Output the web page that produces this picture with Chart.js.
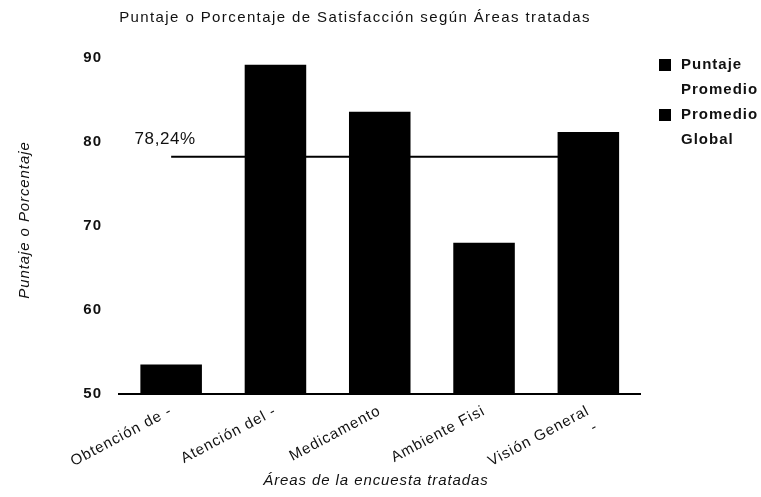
<!DOCTYPE html>
<html>
<head>
<meta charset="utf-8">
<script src="https://cdn.jsdelivr.net/npm/chart.js@4/dist/chart.umd.min.js"></script>
<style>
html,body{margin:0;padding:0;background:#fff;}
#wrap{width:761px;height:497px;position:relative;}
</style>
</head>
<body>
<div id="wrap"><canvas id="c" width="761" height="497"></canvas></div>
<script>
const categories = ["Obtención de -", "Atención del -", "Medicamento", "Ambiente Fisi", ["Visión General", "-"]];
const puntajePromedio = [53.5, 89.2, 83.6, 68.0, 81.2];
const promedioGlobal = [78.24, 78.24, 78.24, 78.24, 78.24];
const promedioGlobalLabel = "78,24%";
const yTicks = [50, 60, 70, 80, 90];
const legendLabels = [["Puntaje", "Promedio"], ["Promedio", "Global"]];
const chartTitle = "Puntaje o Porcentaje de Satisfacción según Áreas tratadas";
const xTitle = "Áreas de la encuesta tratadas";
const yTitle = "Puntaje o Porcentaje";

const FONT = "'Liberation Sans', Arial, sans-serif";

const spacing = {
  id: 'spacing',
  beforeUpdate(chart) { chart.ctx.letterSpacing = '1px'; },
  beforeLayout(chart) { chart.ctx.letterSpacing = '1px'; },
  beforeDraw(chart) { chart.ctx.letterSpacing = '1px'; }
};

const decor = {
  id: 'decor',
  afterDraw(chart) {
    const ctx = chart.ctx;
    const a = chart.chartArea;
    ctx.save();
    ctx.fillStyle = '#111';
    // title
    ctx.letterSpacing = '1.4px';
    ctx.font = "15px " + FONT;
    ctx.textAlign = 'center';
    ctx.textBaseline = 'middle';
    ctx.fillText(chartTitle, 355, 18);
    // x title
    ctx.letterSpacing = '0.9px';
    ctx.font = "italic 15px " + FONT;
    ctx.fillText(xTitle, 376, 481);
    // y title
    ctx.save();
    ctx.translate(25, 220);
    ctx.rotate(-Math.PI / 2);
    ctx.fillText(yTitle, 0, 0);
    ctx.restore();
    // average label
    const meta = chart.getDatasetMeta(1);
    const p0 = meta.data[0];
    ctx.letterSpacing = '0.6px';
    ctx.font = "17px " + FONT;
    ctx.textAlign = 'center';
    ctx.fillText(promedioGlobalLabel, p0.x - 6, p0.y - 17);
    // legend
    ctx.letterSpacing = '1px';
    ctx.font = "bold 15px " + FONT;
    ctx.textAlign = 'left';
    let y = 65;
    legendLabels.forEach(lines => {
      ctx.fillStyle = '#000';
      ctx.fillRect(659, y - 6, 12, 12);
      ctx.fillStyle = '#111';
      lines.forEach((t, i) => ctx.fillText(t, 681, y + i * 25));
      y += 50;
    });
    ctx.restore();
  }
};

new Chart(document.getElementById('c'), {
  type: 'bar',
  data: {
    labels: categories,
    datasets: [
      {
        label: legendLabels[0].join(' '),
        data: puntajePromedio,
        backgroundColor: '#000',
        borderWidth: 0,
        categoryPercentage: 1,
        barPercentage: 0.59,
        order: 0
      },
      {
        type: 'line',
        label: legendLabels[1].join(' '),
        data: promedioGlobal,
        borderColor: '#000',
        borderWidth: 2,
        pointRadius: 0,
        fill: false,
        order: 1
      }
    ]
  },
  plugins: [spacing, decor],
  options: {
    responsive: false,
    animation: false,
    layout: { padding: { left: 0, right: 120.5, top: 58, bottom: 0 } },
    plugins: { legend: { display: false }, title: { display: false }, tooltip: { enabled: false } },
    scales: {
      x: {
        grid: { display: false, drawTicks: false },
        border: { display: true, color: '#000', width: 2 },
        ticks: {
          color: '#111',
          font: { family: FONT, size: 15 },
          minRotation: 28, maxRotation: 28,
          autoSkip: false,
          padding: 8
        },
        afterFit(s) { s.height = 103; }
      },
      y: {
        min: 50, max: 90,
        grid: { display: false, drawTicks: false },
        border: { display: false },
        afterBuildTicks(s) { s.ticks = yTicks.map(v => ({ value: v })); },
        ticks: {
          color: '#111',
          font: { family: FONT, size: 15, weight: 'bold' },
          padding: 17
        },
        afterFit(s) { s.width = 119; }
      }
    }
  }
});
</script>
</body>
</html>
